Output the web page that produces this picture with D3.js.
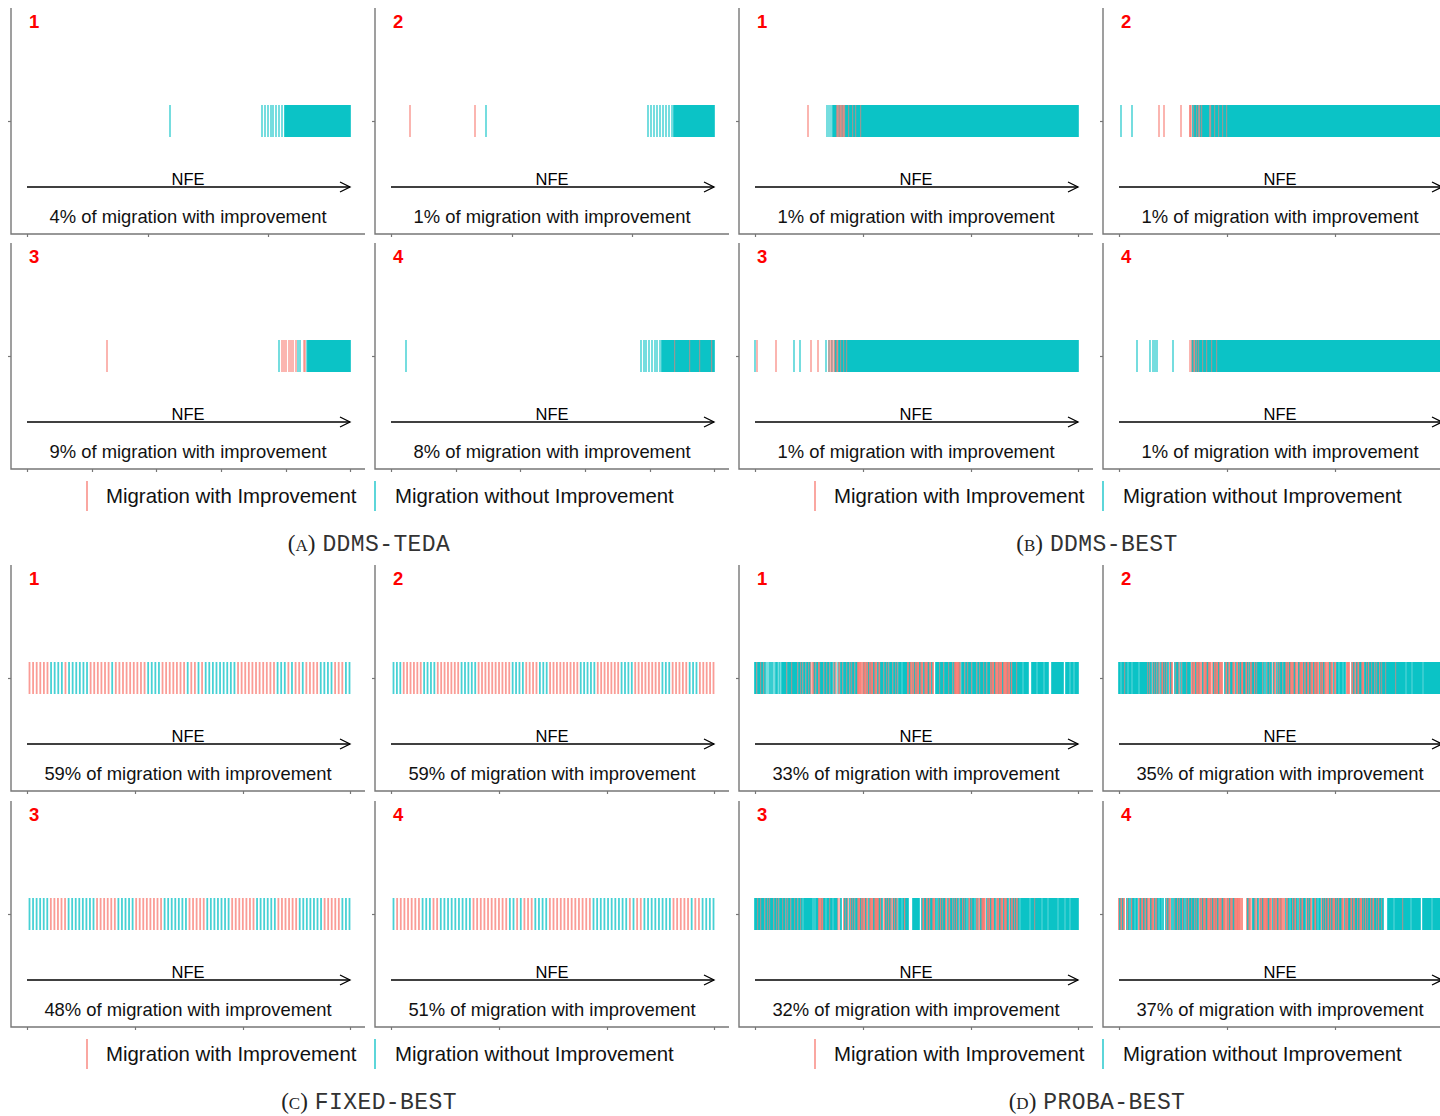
<!DOCTYPE html>
<html><head><meta charset="utf-8">
<script src="https://cdn.jsdelivr.net/npm/d3@7"></script>
<style>body{margin:0;background:#fff}svg{display:block}</style>
</head><body>
<svg id="chart" width="1440" height="1116"></svg>
<script>
// ---------------- data ----------------
const panelNumbers = ["1", "2", "3", "4"];
const captionLetters = ["A", "B", "C", "D"];
const captionNames = ["DDMS-TEDA", "DDMS-BEST", "FIXED-BEST", "PROBA-BEST"];
const legendLabels = ["Migration with Improvement", "Migration without Improvement"];

const improvementPctA = [4, 1, 9, 8];
const improvementPctB = [1, 1, 1, 1];
const improvementPctC = [59, 59, 48, 51];
const improvementPctD = [33, 35, 32, 37];

// Migration timelines over NFE slots 0..323, run-length coded:
// '.' nothing, 'r' migration with improvement, 'c' without,
// 'm' one of each in the slot, 'R' / 'C' two migrations in the slot.
const timelineA = [
  "143. c 91. c 2. c 2. c 2. c 1. c 2. c 2. c 2. c 2. 66C",
  "19. r 64. r 10. c 161. c 2. c 2. c 2. c 2. c 2. c 2. c 2. c 2. c 1. 41C",
  "80. r 171. c 2. r 1. r 1. r 2. r 1. r 1. r 2. r 1. c 1. c 3. r r 1. c 43C",
  "15. c 234. c 2. c 1. c 2. c 2. c 2. c 1. c 2. c 1. 13C m 14C m 9C m 11C m 2C"
];
const timelineB = [
  "53. r 18. c 1. c 1. c 1. 4C m r m m r m m r m 3C m 3C m 2C m 4C m 4C 213C",
  "2. c 10. c 26. r 4. r 16. r 8. R r 1. C m C C m C r m C m 7C r m 3C m 3C m 3C m 3C m 4C 211C",
  "c 1. r 18. r 17. c 5. c 10. r 6. r 7. c 2. m 1. r m 1. r m C m r 2C m 2C m 2C m 3C 228C",
  "18. c 12. c 2. c 1. c 1. c 15. c 16. r 1. m C m r C m C m 3C m 3C m 4C m 4C m 5C 220C"
];
const timelineD = [
  "2C r 3C m 2C r C 1. c 1. 3c 2c 1. c c C 1. 2c 1. 5C r 4C m 5C r 2C m C r 2C r 2C m C r " +
  "1. R m C r 2C R m 3C r 2C m 2C r 2C 1. m c r 1. c m r 2C r 3C m 2C r C m 2C r 2C R R r R 1. " +
  "R m R r m R C R m R R C m R r C m R 3C r 2C m C r 3C r 2C m C r 2C C 1. 5C " +
  "R m C R r m R C R m R R C m R r C m R R m C R r C R 2. 4C m 3C r 4C m 3C r C R R r R R m 1. " +
  "3C r 2C m 3C r 4C r 2C m 3C m 2C r 3C R m R R C R r R m R R R C R r R R m R R C R " +
  "4C m 5C 1. 5C 3. 5C 1. 6C 1. 4C 3. 12C 2. 4C 1. 3C 1. 4C",
  "2C 1. 3C m 2C 1. 2C C 1. 6C 1. 8C m C m C 1. m C m C r C m 1. C m R C m C r C 1. R C R 2. " +
  "C m C C m 1. C r C C 2C m C 2C 1. " +
  "R m R r C R R m R 1. R C r R R m C R R r 1. R C R m R R C R r R 2. " +
  "C m R C r R C C m R 1. C R r C m C R R C C m R C r C R m C C R C m C C " +
  "3C r C 1. C r 2C m C 1. r C R 1. C r C m 2C r C C m " +
  "R m R C R r R m C R 1. R C m R R r C R m C R R C m R r C R R m R 1. C R m R C r R 1. " +
  "R r C m R 1. C R r C C 1. 3C 1. 2C 1. R r R 2. " +
  "m R C r R C m R C C m R r C C m C R C C m C C r C m C C R C m C C C m C " +
  "8C m 9C 1. 5C 1. 10C 1. 19C",
  "3C m 2C m 3C r 2C m C m 3C r 2C m C r 3C m 2C r C m 2C r 3C m 2C r 2C m C 1. 4C 5C 1. " +
  "C 1. 3C R r R m R 2C 1. 3C m 2C 1. 3C C r 1. r C 2. R C m C r 1. C R C m C r C " +
  "C m R R C R m r R C R 1. C m R r R C m R R R m C R C 1. r R C m C R C m 1. R C R C m 1. " +
  "3C 1. 2C R 3C 4. 7C 2. " +
  "C m R C C R m C R C C m R r C 1. C m C R C m C C R 1. C m R C C r C m C R C 1. m C C R C m C 1. C r R C m C C 1. C R m 1. " +
  "R C m R R r 1. C R m R C R r R C 1. m R R C m R r C R R m C 1. R C R m C R C R m C 1. C " +
  "8C 1. 4C m 6C 1. 5C 1. 9C 1. 6C 1. 4C 1. 8C",
  "R C m R C R 2. C R C 1. C R 2C 1. 2C 1. R m C R R C m R C R 1. R C m R r C R m C 1. 2C 1. C 2. " +
  "C R C m R 1. C 1. C m C C R C m C C R C 1. C m C R C C m C C r C m C 1. " +
  "R m R C R R m C R r R m R C R R m R C r R R m C R R 1. R m R C R R m C R r R R r R 1. R 4. " +
  "R C m R 1. r C C m 1. R C 1. R m R C R r R R m C R R 1. C R m R R C r R m R 1. R 1. " +
  "C R m C 1. C C R C m R C 1. C R C m R C C 1. R C m C R 1. C C m R C 1. C C 1. " +
  "R C m C R C m R C R C m R R C m C R C C m R 1. C R m R C C m R C R m C C R C m R R C m C R C m C C R C m R C C m C R C C m C " +
  "4. 6C 1. 8C m 7C 1. 9C 2. 9C 1. 10C"
];
// Fixed-interval migrations, in order (r = with improvement, c = without)
const sequenceC = [
  "rrrrrrccccrccccccrrrrrrcrrrrrrrrrccccrrrrrrrcrrcrcccccccccrrrrrrrrrrrcccrcrrcrrrrccccrrrcc",
  "cccrrrrrrccccrrrrrrrcccccrrrrrrrrrrccccrrrrcccrrrrrrrrrcccccrrrrrrrccccrrrrrrrrcccrrrrrcccrrrrr",
  "ccccccrrrrrccccccccrrrrrrcccccrrrrrrrrcccccccrrrrrcccccccrrrrrrrccccccrrrrrrcccccccrrrrrccc",
  "crrrrrrrcccrrcccccccccrrrrrrrrrrccrcrrrccccrrrrrrrrrrrrccccccccccrcrrccccccccrrrrrcrrcccc"
];
// bottom-axis tick positions (NFE slots) for each group's four panels
const ticksA = [[0, 121, 241], [0, 121, 241], [0, 65, 129, 194, 259, 323], [0, 65, 129, 194, 259, 323]];
const ticksB = [[0, 108, 216, 323], [0, 108, 216, 323], [0, 108, 216, 323], [0, 108, 216, 323]];
const ticksC = [[0, 108, 216, 323], [0, 108, 216, 323], [0, 108, 216, 323], [0, 108, 216, 323]];
const ticksD = [[0, 108, 216, 323], [0, 108, 216, 323], [0, 108, 216, 323], [0, 108, 216, 323]];

// ---------------- helpers ----------------
const RED = "#F8766D", CYAN = "#00BFC4", FRAME = "#777";
const SANS = "'Liberation Sans', Arial, Helvetica, sans-serif";

function parseTimeline(code) {
  const s = code.replace(/\s+/g, "");
  const re = /(\d*)([.rcmRC])/g;
  const events = [];
  let pos = 0, m;
  while ((m = re.exec(s)) !== null) {
    const n = m[1] ? +m[1] : 1;
    for (let k = 0; k < n; k++) {
      const slot = pos + k;
      switch (m[2]) {
        case "r": events.push({ nfe: slot, imp: true }); break;
        case "c": events.push({ nfe: slot, imp: false }); break;
        case "R": events.push({ nfe: slot, imp: true }, { nfe: slot, imp: true }); break;
        case "C": events.push({ nfe: slot, imp: false }, { nfe: slot, imp: false }); break;
        case "m": events.push({ nfe: slot, imp: false }, { nfe: slot, imp: true }); break;
      }
    }
    pos += n;
  }
  return events;
}
function parseSequence(seq) {
  return Array.from(seq).map((ch, i) => ({ nfe: i, imp: ch === "r" }));
}

const groups = [
  { events: timelineA.map(parseTimeline), pct: improvementPctA, ticks: ticksA, fixed: false, col: 0, row: 0 },
  { events: timelineB.map(parseTimeline), pct: improvementPctB, ticks: ticksB, fixed: false, col: 2, row: 0 },
  { events: sequenceC.map(parseSequence), pct: improvementPctC, ticks: ticksC, fixed: true, col: 0, row: 2 },
  { events: timelineD.map(parseTimeline), pct: improvementPctD, ticks: ticksD, fixed: false, col: 2, row: 2 }
];

// ---------------- layout ----------------
const colLeft = [11, 375, 739, 1103];
const rowTop = [8, 243, 565, 801];
const PW = 354, PH = 226;
const groupCenter = [369, 1097, 369, 1097];
const legendY = [496, 496, 1054, 1054];
const captionY = [551, 551, 1109, 1109];

const svg = d3.select("#chart");

groups.forEach((grp, gi) => {
  grp.events.forEach((events, p) => {
    const left = colLeft[grp.col + (p % 2)];
    const top = rowTop[grp.row + Math.floor(p / 2)];
    const g = svg.append("g").attr("transform", `translate(${left},${top})`);

    const y = d3.scaleLinear().domain([-1, 1]).range([PH, 0]);
    const slotX = d3.scaleLinear().domain([0, 323]).range([16, 339]);
    const x = grp.fixed
      ? d3.scaleLinear().domain([0, events.length - 1]).range([18.5, 338.5])
      : slotX;

    // frame: left and bottom axes
    g.append("path")
      .attr("d", `M0,0V${PH}H${PW}`)
      .attr("fill", "none").attr("stroke", FRAME).attr("stroke-width", 1.4);
    const yAxis = d3.axisLeft(y).tickValues([0]).tickSize(3).tickSizeOuter(0).tickFormat("");
    const ya = g.append("g").call(yAxis);
    ya.select(".domain").remove();
    ya.selectAll(".tick line").attr("stroke", FRAME).attr("stroke-width", 1.2);
    const xAxis = d3.axisBottom(slotX).tickValues(grp.ticks[p]).tickSize(3).tickSizeOuter(0).tickFormat("");
    const xa = g.append("g").attr("transform", `translate(0,${PH})`).call(xAxis);
    xa.select(".domain").remove();
    xa.selectAll(".tick line").attr("stroke", FRAME).attr("stroke-width", 1.2);

    // migration marks
    const y0 = y(0.1416), y1 = y(-0.1416);
    g.append("g").selectAll("line")
      .data(events)
      .join("line")
      .attr("x1", d => x(d.nfe)).attr("x2", d => x(d.nfe))
      .attr("y1", y0).attr("y2", y1)
      .attr("stroke", d => d.imp ? RED : CYAN)
      .attr("stroke-opacity", grp.fixed ? 0.72 : 0.68)
      .attr("stroke-width", grp.fixed ? 1.8 : 1.6);

    // panel number
    g.append("text").attr("x", 18).attr("y", 20)
      .attr("font-family", SANS).attr("font-weight", "bold").attr("font-size", 18.5)
      .attr("fill", "#ff0000").text(panelNumbers[p]);

    // NFE arrow
    const ay = 179;
    g.append("line").attr("x1", 16).attr("x2", 339).attr("y1", ay).attr("y2", ay)
      .attr("stroke", "#000").attr("stroke-width", 1.3);
    g.append("path").attr("d", `M${329},${ay - 5}L339,${ay}L${329},${ay + 5}`)
      .attr("fill", "none").attr("stroke", "#000").attr("stroke-width", 1.3);
    g.append("text").attr("x", 177).attr("y", ay - 2).attr("text-anchor", "middle")
      .attr("font-family", SANS).attr("font-size", 16.5).attr("fill", "#000").text("NFE");

    // share of improving migrations
    g.append("text").attr("x", 177).attr("y", 215).attr("text-anchor", "middle")
      .attr("font-family", SANS).attr("font-size", 18.4).attr("fill", "#111")
      .text(`${grp.pct[p]}% of migration with improvement`);
  });

  // legend
  const cx = groupCenter[gi], ly = legendY[gi];
  const lg = svg.append("g");
  const items = [
    { label: legendLabels[0], color: RED, lx: cx - 282, tx: cx - 263 },
    { label: legendLabels[1], color: CYAN, lx: cx + 6, tx: cx + 26 }
  ];
  items.forEach(it => {
    lg.append("line").attr("x1", it.lx).attr("x2", it.lx).attr("y1", ly - 15).attr("y2", ly + 15)
      .attr("stroke", it.color).attr("stroke-width", 1.6).attr("stroke-opacity", 0.8);
    lg.append("text").attr("x", it.tx).attr("y", ly + 7)
      .attr("font-family", SANS).attr("font-size", 20.4).attr("fill", "#111").text(it.label);
  });

  // caption
  const cap = svg.append("text").attr("x", cx).attr("y", captionY[gi]).attr("text-anchor", "middle")
    .attr("fill", "#222");
  cap.append("tspan").attr("font-family", "'Liberation Serif', serif").attr("font-size", 23).text("(");
  cap.append("tspan").attr("font-family", "'Liberation Serif', serif").attr("font-size", 17).text(captionLetters[gi]);
  cap.append("tspan").attr("font-family", "'Liberation Serif', serif").attr("font-size", 23).text(")");
  cap.append("tspan").attr("dx", 7).attr("font-family", "'Liberation Mono', monospace").attr("font-size", 23)
    .attr("fill", "#333").attr("letter-spacing", 0.4).text(captionNames[gi]);
});
</script>
</body></html>
